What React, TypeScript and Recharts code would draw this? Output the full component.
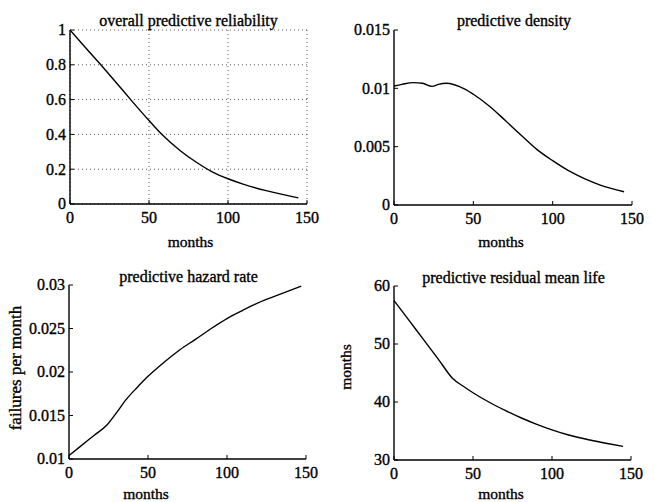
import React from 'react';
import { LineChart, Line, XAxis, YAxis, CartesianGrid } from 'recharts';

const FONT = '"Liberation Serif", "Times New Roman", Times, serif';

// shared x ticks (months)
const monthTicks = [0, 50, 100, 150];

// Panel 1: overall predictive reliability
const reliabilityMonths = [0, 10, 19.5, 30, 38.4, 50, 58.4, 70, 80, 90, 100, 110, 123.5, 144.5];
const reliabilityValues = [1, 0.897, 0.8, 0.69, 0.6, 0.48, 0.398, 0.305, 0.24, 0.185, 0.145, 0.113, 0.078, 0.035];
const reliabilityTicks = [0, 0.2, 0.4, 0.6, 0.8, 1];

// Panel 2: predictive density
const densityMonths = [0, 5, 12, 18, 24, 28, 33, 38, 45, 50, 60, 70, 80, 90, 100, 110, 120, 130, 145];
const densityValues = [0.0102, 0.01034, 0.01049, 0.01043, 0.01017, 0.01034, 0.01043, 0.01031, 0.00991, 0.00949, 0.00849, 0.00726, 0.006, 0.00477, 0.0038, 0.00294, 0.00226, 0.00171, 0.00114];
const densityTicks = [0, 0.005, 0.01, 0.015];

// Panel 3: predictive hazard rate
const hazardMonths = [0, 8, 16, 24, 30, 36, 43, 50, 60, 70, 80, 90, 100, 110, 120, 130, 147];
const hazardValues = [0.0104, 0.01157, 0.01273, 0.0139, 0.0153, 0.0168, 0.0182, 0.0195, 0.0211, 0.02253, 0.02375, 0.025, 0.02614, 0.02709, 0.02797, 0.02869, 0.02987];
const hazardTicks = [0.01, 0.015, 0.02, 0.025, 0.03];

// Panel 4: predictive residual mean life
const residualMonths = [0, 10, 18, 28, 37, 45, 50, 60, 70, 81, 90, 100, 110, 124, 135, 145];
const residualValues = [57.5, 53.9, 51.0, 47.4, 44.1, 42.5, 41.6, 40.0, 38.6, 37.2, 36.2, 35.2, 34.35, 33.45, 32.85, 32.35];
const residualTicks = [30, 40, 50, 60];

const toData = (months: number[], values: number[]) =>
  months.map((m, i) => ({ month: m, value: values[i] }));

const TICK_LEN = 4;
const TICK_FS = 16;
const TEXT_STROKE = 0.35;
const axisStyle = { stroke: '#000', strokeWidth: 1.4 };

const BottomTick = (p: any) => (
  <g>
    <line x1={p.x} y1={p.y} x2={p.x} y2={p.y - TICK_LEN} stroke="#000" strokeWidth={1} />
    <text
      x={p.x}
      y={p.y + 18.5}
      textAnchor="middle"
      fontSize={TICK_FS}
      fontFamily={FONT}
      fill="#000"
      stroke="#000"
      strokeWidth={TEXT_STROKE}
    >
      {p.payload.value}
    </text>
  </g>
);

const TopTick = (p: any) => (
  <line x1={p.x} y1={p.y} x2={p.x} y2={p.y + TICK_LEN} stroke="#000" strokeWidth={1} />
);

const LeftTick = (p: any) => (
  <g>
    <line x1={p.x} y1={p.y} x2={p.x + TICK_LEN} y2={p.y} stroke="#000" strokeWidth={1} />
    <text
      x={p.x - 4}
      y={p.y + 5.4}
      textAnchor="end"
      fontSize={TICK_FS}
      fontFamily={FONT}
      fill="#000"
      stroke="#000"
      strokeWidth={TEXT_STROKE}
    >
      {p.payload.value}
    </text>
  </g>
);

const RightTick = (p: any) => (
  <line x1={p.x} y1={p.y} x2={p.x - TICK_LEN} y2={p.y} stroke="#000" strokeWidth={1} />
);

type PanelProps = {
  left: number;
  top: number;
  width: number;
  height: number;
  plot: { l: number; r: number; t: number; b: number };
  data: { month: number; value: number }[];
  yDomain: [number, number];
  yTicks: number[];
  grid?: boolean;
};

function Panel({ left, top, width, height, plot, data, yDomain, yTicks, grid }: PanelProps) {
  const yW = 50;
  const xH = 30;
  const margin = {
    left: plot.l - left - yW,
    right: left + width - plot.r,
    top: plot.t - top,
    bottom: top + height - plot.b - xH,
  };
  return (
    <div style={{ position: 'absolute', left, top, width, height }}>
      <LineChart width={width} height={height} data={data} margin={margin}>
        {grid && (
          <CartesianGrid xAxisId="b" yAxisId="l" stroke="#555" strokeDasharray="1 3" strokeWidth={1} />
        )}
        <XAxis
          xAxisId="b"
          dataKey="month"
          type="number"
          domain={[0, 150]}
          ticks={monthTicks}
          interval={0}
          allowDataOverflow
          height={xH}
          tickSize={0}
          tickMargin={0}
          tickLine={false}
          axisLine={axisStyle}
          tick={BottomTick}
        />
        <XAxis
          xAxisId="t"
          orientation="top"
          dataKey="month"
          type="number"
          domain={[0, 150]}
          ticks={monthTicks}
          interval={0}
          allowDataOverflow
          height={0}
          tickSize={0}
          tickMargin={0}
          tickLine={false}
          axisLine={axisStyle}
          tick={TopTick}
        />
        <YAxis
          yAxisId="l"
          dataKey="value"
          type="number"
          domain={yDomain}
          ticks={yTicks}
          interval={0}
          allowDataOverflow
          width={yW}
          tickSize={0}
          tickMargin={0}
          tickLine={false}
          axisLine={axisStyle}
          tick={LeftTick}
        />
        <YAxis
          yAxisId="r"
          orientation="right"
          dataKey="value"
          type="number"
          domain={yDomain}
          ticks={yTicks}
          interval={0}
          allowDataOverflow
          width={0}
          tickSize={0}
          tickMargin={0}
          tickLine={false}
          axisLine={axisStyle}
          tick={RightTick}
        />
        <Line
          xAxisId="b"
          yAxisId="l"
          type="monotone"
          dataKey="value"
          stroke="#000"
          strokeWidth={1.4}
          dot={false}
          activeDot={false}
          isAnimationActive={false}
        />
      </LineChart>
    </div>
  );
}

const TITLE_FS = 16;
const LABEL_FS = 15.5;

export default function App() {
  return (
    <div
      style={{
        position: 'absolute',
        left: 0,
        top: 0,
        width: 655,
        height: 502,
        background: '#fff',
        overflow: 'hidden',
        fontFamily: FONT,
      }}
    >
      <Panel
        left={0}
        top={0}
        width={327}
        height={251}
        plot={{ l: 70, r: 307, t: 30, b: 204 }}
        data={toData(reliabilityMonths, reliabilityValues)}
        yDomain={[0, 1]}
        yTicks={reliabilityTicks}
        grid
      />
      <Panel
        left={327}
        top={0}
        width={328}
        height={251}
        plot={{ l: 394, r: 632, t: 30, b: 205 }}
        data={toData(densityMonths, densityValues)}
        yDomain={[0, 0.015]}
        yTicks={densityTicks}
      />
      <Panel
        left={0}
        top={251}
        width={327}
        height={251}
        plot={{ l: 69, r: 306, t: 285, b: 459 }}
        data={toData(hazardMonths, hazardValues)}
        yDomain={[0.01, 0.03]}
        yTicks={hazardTicks}
      />
      <Panel
        left={327}
        top={251}
        width={328}
        height={251}
        plot={{ l: 394, r: 631, t: 286, b: 460 }}
        data={toData(residualMonths, residualValues)}
        yDomain={[30, 60]}
        yTicks={residualTicks}
      />
      <svg
        width={655}
        height={502}
        style={{ position: 'absolute', left: 0, top: 0, pointerEvents: 'none' }}
      >
        <g fontFamily={FONT} fill="#000" stroke="#000" strokeWidth={TEXT_STROKE}>
          <text x={188.5} y={26} textAnchor="middle" fontSize={TITLE_FS}>overall predictive reliability</text>
          <text x={514} y={26} textAnchor="middle" fontSize={TITLE_FS}>predictive density</text>
          <text x={188.5} y={281.5} textAnchor="middle" fontSize={TITLE_FS}>predictive hazard rate</text>
          <text x={513.5} y={283} textAnchor="middle" fontSize={TITLE_FS}>predictive residual mean life</text>

          <text x={190.5} y={247} textAnchor="middle" fontSize={LABEL_FS}>months</text>
          <text x={501} y={247} textAnchor="middle" fontSize={LABEL_FS}>months</text>
          <text x={146} y={499} textAnchor="middle" fontSize={LABEL_FS}>months</text>
          <text x={501} y={499} textAnchor="middle" fontSize={LABEL_FS}>months</text>

          <text x={21} y={368} textAnchor="middle" fontSize={17} transform="rotate(-90 21 368)">failures per month</text>
          <text x={351} y={367} textAnchor="middle" fontSize={LABEL_FS} transform="rotate(-90 351 367)">months</text>
        </g>
      </svg>
    </div>
  );
}
